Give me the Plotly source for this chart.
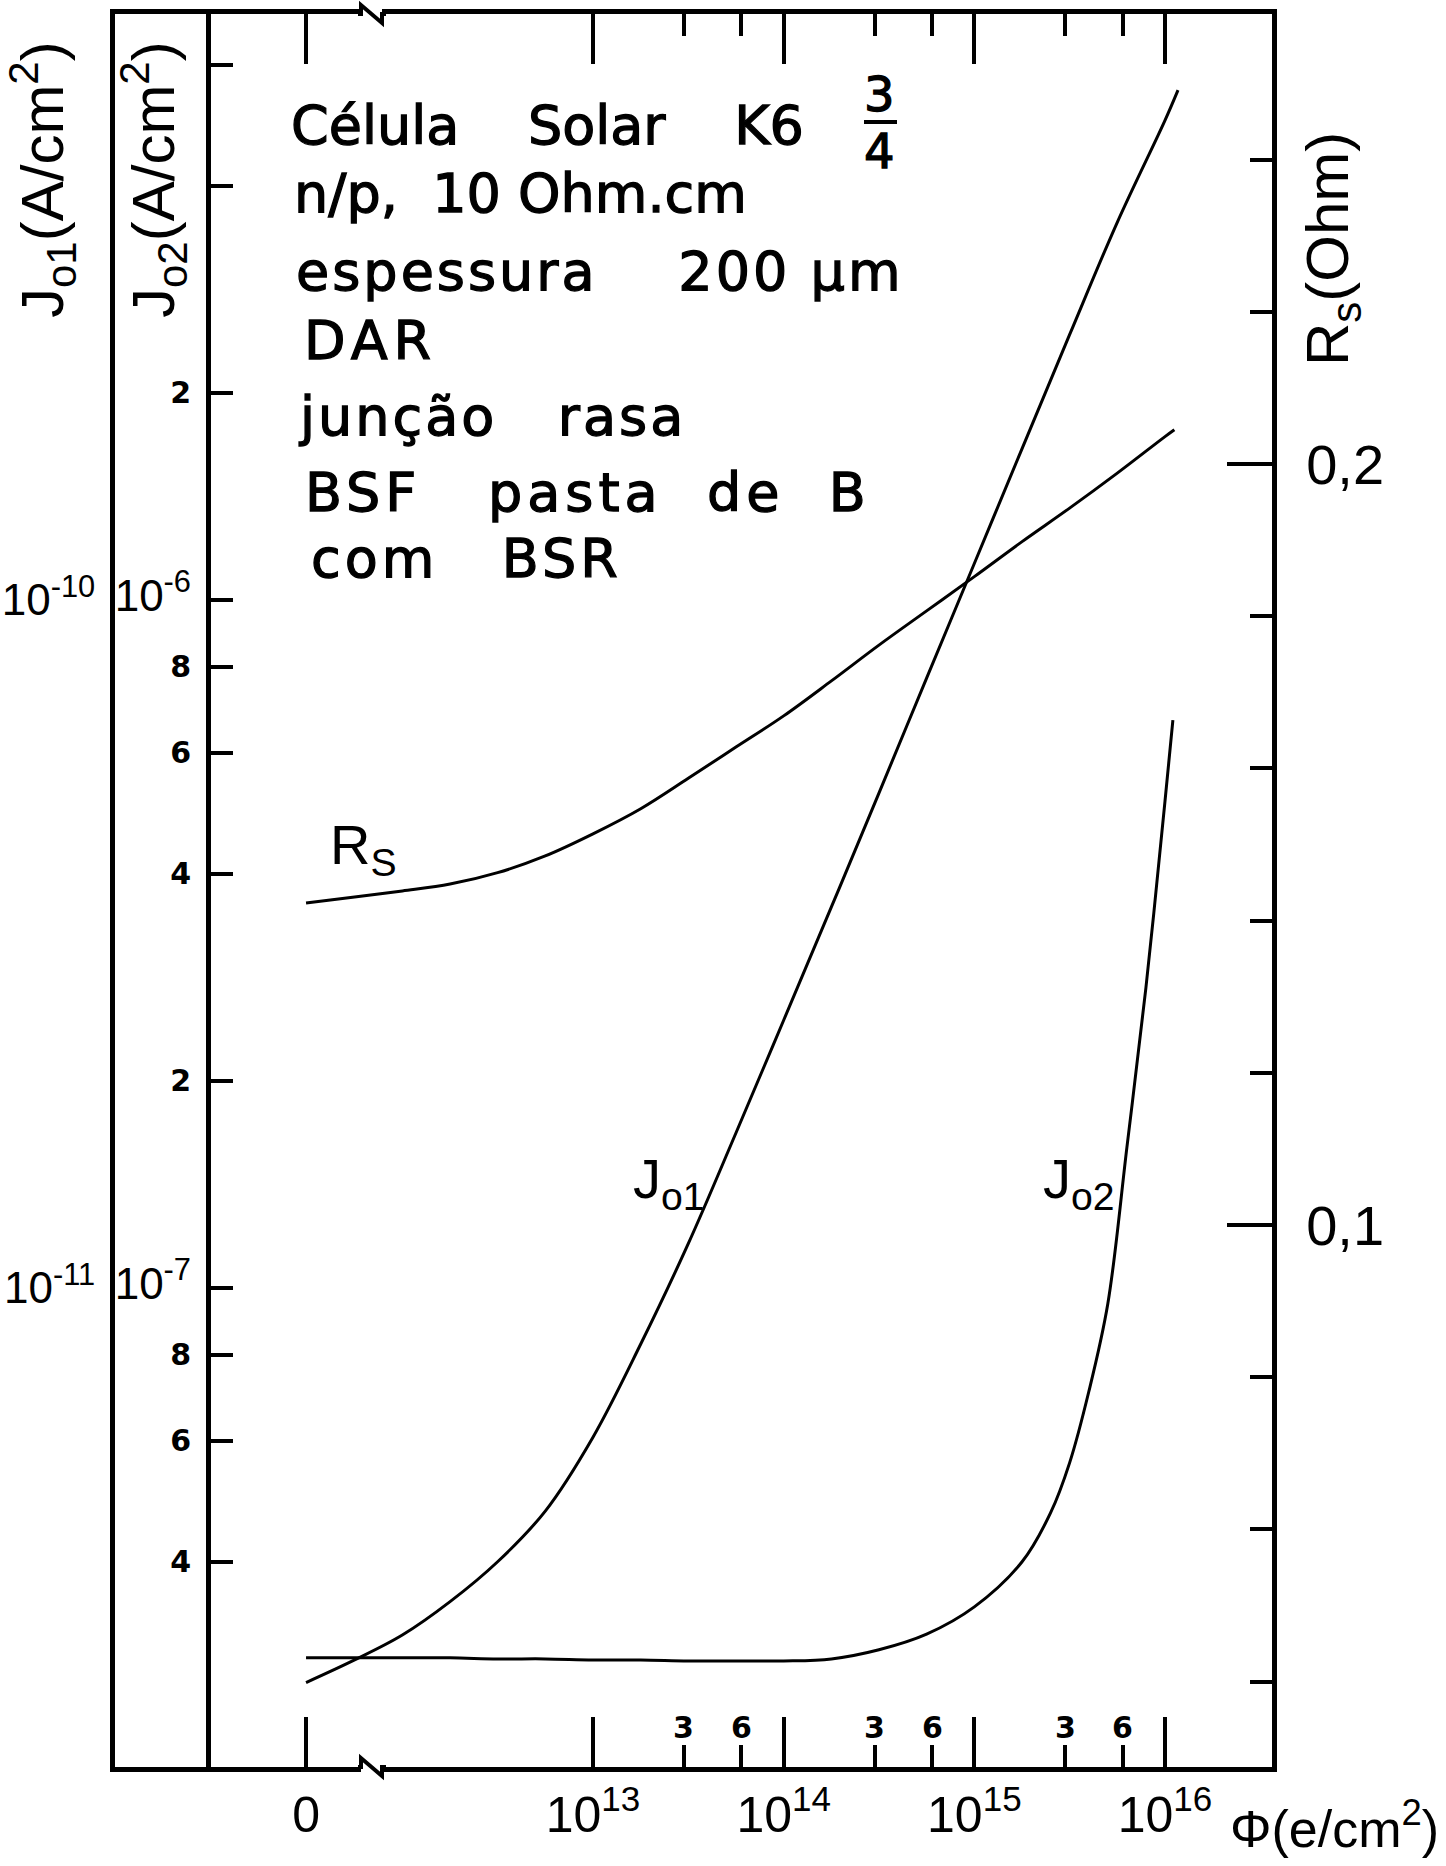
import plotly.graph_objects as go
import math

W, H = 1446, 1866

# ---------------- data ----------------
# fluence 0 sits on the broken part of the axis; this is where it is drawn
PHI_ZERO_POS = 10 ** 11.495

RS_PHI = [0, 5.62e11, 1e12, 1.78e12, 3.16e12, 5.62e12, 1e13, 1.78e13, 3.16e13,
          5.62e13, 1e14, 1.78e14, 3.16e14, 5.62e14, 1e15, 1.78e15, 3.16e15,
          5.62e15, 1e16, 1.12e16]
RS_OHM = [0.1423, 0.1431, 0.1439, 0.1448, 0.1463, 0.1485, 0.1514, 0.1547, 0.1587,
          0.1628, 0.1669, 0.1715, 0.1762, 0.1807, 0.1852, 0.1898, 0.1942,
          0.1988, 0.2036, 0.2045]

J01_PHI = [0, 5.62e11, 1e12, 1.78e12, 3.16e12, 5.62e12, 1e13, 1.78e13, 3.16e13,
           5.62e13, 1e14, 1.78e14, 3.16e14, 5.62e14, 1e15, 1.78e15, 3.16e15,
           5.62e15, 1e16, 1.17e16]
J01_VAL = [2.67e-12, 2.88e-12, 3.13e-12, 3.50e-12, 4.00e-12, 4.74e-12, 6.07e-12,
           8.29e-12, 1.16e-11, 1.68e-11, 2.45e-11, 3.58e-11, 5.24e-11, 7.70e-11,
           1.13e-10, 1.66e-10, 2.43e-10, 3.54e-10, 4.98e-10, 5.51e-10]

J02_PHI = [0, 5.62e11, 1e12, 1.78e12, 3.16e12, 5.62e12, 1e13, 1.78e13, 3.16e13,
           5.62e13, 1e14, 1.78e14, 3.16e14, 5.62e14, 1e15, 1.78e15, 2.51e15,
           3.16e15, 3.98e15, 5.01e15, 6.31e15, 7.94e15, 1e16, 1.1e16]
J02_VAL = [2.90e-8, 2.90e-8, 2.90e-8, 2.90e-8, 2.89e-8, 2.89e-8, 2.88e-8, 2.88e-8,
           2.87e-8, 2.87e-8, 2.87e-8, 2.89e-8, 2.98e-8, 3.14e-8, 3.44e-8, 4.00e-8,
           4.71e-8, 5.57e-8, 7.06e-8, 9.48e-8, 1.60e-7, 2.73e-7, 5.10e-7, 6.69e-7]

# ---------------- ticks ----------------
X_TICK_VALS = [0, 1e13, 1e14, 1e15, 1e16]
X_TICK_TEXT = ["0", "10<sup>13</sup>", "10<sup>14</sup>", "10<sup>15</sup>", "10<sup>16</sup>"]
X_MINOR_VALS = [3e13, 6e13, 3e14, 6e14, 3e15, 6e15]
X_MINOR_TEXT = ["3", "6", "3", "6", "3", "6"]

BIG = ('<span style="font-family:Liberation Sans;font-size:44px;'
       'font-weight:normal">{}</span>')
J02_TICK_VALS = [4e-8, 6e-8, 8e-8, 1e-7, 2e-7, 4e-7, 6e-7, 8e-7, 1e-6, 2e-6, 4e-6, 6e-6]
J02_TICK_TEXT = ["4", "6", "8", BIG.format("10<sup>-7</sup>"), "2", "4", "6", "8",
                 BIG.format("10<sup>-6</sup>"), "2", "", ""]
J02_DECADES = [1e-7, 1e-6]
J01_TICK_VALS = [1e-11, 1e-10]
J01_TICK_TEXT = ["10<sup>-11</sup>", "10<sup>-10</sup>"]
RS_MAJOR = [0.1, 0.2]
RS_MAJOR_TEXT = ["0,1", "0,2"]
RS_MINOR = [0.04, 0.06, 0.08, 0.12, 0.14, 0.16, 0.18, 0.22, 0.24]

TEXT_LINES = [
    ("Célula\u00a0\u00a0\u00a0\u00a0Solar\u00a0\u00a0\u00a0\u00a0K6", 0),
    ("n/p,\u00a0\u00a010 Ohm.cm", 0),
    ("espessura\u00a0\u00a0\u00a0\u00a0200 µm", 3),
    ("DAR", 6),
    ("junção\u00a0\u00a0\u00a0rasa", 3),
    ("BSF\u00a0\u00a0\u00a0pasta\u00a0\u00a0de\u00a0\u00a0B", 5),
    ("com\u00a0\u00a0\u00a0BSR", 4),
]

# ---------------- layout geometry (pixels) ----------------
PX_OUT, PX_J02, PX_RIGHT = 115, 208, 1272
PY_TOP, PY_BOT = 14, 1767
X_RANGE = [10.49305, 16.5612]
J02_RANGE = [-7.69622, -5.14826]
J01_RANGE = [J02_RANGE[0] - 4, J02_RANGE[1] - 4]
RS_RANGE = [0.02878, 0.25913]

THIN = "Liberation Sans"
TXT = "DejaVu Sans"


def xp(px):
    return px / W


def yp(py):
    return 1 - py / H


def xpos(vals):
    return [PHI_ZERO_POS if v == 0 else v for v in vals]


fig = go.Figure()
line = dict(color="black", width=3, shape="spline", smoothing=1.0)
fig.add_trace(go.Scatter(x=xpos(RS_PHI), y=RS_OHM, mode="lines", line=line, yaxis="y2"))
fig.add_trace(go.Scatter(x=xpos(J01_PHI), y=J01_VAL, mode="lines", line=line, yaxis="y3"))
fig.add_trace(go.Scatter(x=xpos(J02_PHI), y=J02_VAL, mode="lines", line=line, yaxis="y"))

ydom = [yp(PY_BOT), yp(PY_TOP)]
fig.update_layout(
    width=W, height=H, margin=dict(l=0, r=0, t=0, b=0, pad=0, autoexpand=False),
    paper_bgcolor="white", plot_bgcolor="white", showlegend=False,
    xaxis=dict(domain=[xp(PX_OUT), xp(PX_RIGHT)], type="log", range=X_RANGE,
               showline=True, linewidth=5, linecolor="black", mirror="ticks",
               ticks="inside", ticklen=50, tickwidth=4, tickcolor="black",
               tickvals=xpos(X_TICK_VALS), ticktext=X_TICK_TEXT,
               tickfont=dict(family=THIN, size=50, color="black"),
               showgrid=False, zeroline=False, anchor="y", automargin=False,
               minor=dict(tickvals=X_MINOR_VALS, ticks="inside", ticklen=22,
                          tickwidth=4, tickcolor="black", showgrid=False)),
    yaxis=dict(domain=ydom, type="log", range=J02_RANGE, anchor="free",
               position=xp(PX_J02), side="left", showline=True, linewidth=5,
               linecolor="black", ticks="inside", ticklen=22, tickwidth=4,
               tickcolor="black", tickvals=J02_TICK_VALS, ticktext=J02_TICK_TEXT,
               tickfont=dict(family=TXT, size=30, color="black", weight="bold"),
               ticklabelstandoff=9, showgrid=False, zeroline=False, automargin=False),
    yaxis4=dict(overlaying="y", type="log", range=J02_RANGE, anchor="free",
                position=xp(PX_J02), side="left", showline=False, ticks="inside",
                ticklen=47, tickwidth=4, tickcolor="black", tickvals=J02_DECADES,
                showticklabels=False, showgrid=False, zeroline=False, automargin=False),
    yaxis3=dict(overlaying="y", type="log", range=J01_RANGE, anchor="x",
                side="left", showline=True, linewidth=5, linecolor="black",
                ticks="", tickvals=J01_TICK_VALS, ticktext=J01_TICK_TEXT,
                tickfont=dict(family=THIN, size=44, color="black"),
                ticklabelstandoff=6, showgrid=False, zeroline=False, automargin=False),
    yaxis2=dict(overlaying="y", range=RS_RANGE, anchor="x", side="right",
                showline=True, linewidth=5, linecolor="black", ticks="inside",
                ticklen=45, tickwidth=4, tickcolor="black", tickvals=RS_MAJOR,
                ticktext=RS_MAJOR_TEXT,
                tickfont=dict(family=THIN, size=56, color="black"),
                ticklabelstandoff=18, showgrid=False, zeroline=False, automargin=False,
                minor=dict(tickvals=RS_MINOR, ticks="inside", ticklen=22,
                           tickwidth=4, tickcolor="black", showgrid=False)),
)

ann = []
# minor x tick labels (3, 6) drawn above their ticks
for v, t in zip(X_MINOR_VALS, X_MINOR_TEXT):
    ann.append(dict(x=math.log10(v), xref="x", y=yp(1727), yref="paper", text=t,
                    showarrow=False, font=dict(family=TXT, size=30, color="black", weight="bold"),
                    xanchor="center", yanchor="middle"))
# axis titles
titles = [
    dict(x=xp(42), y=yp(180), text="J<sub>o1</sub>(A/cm<sup>2</sup>)", textangle=-90, size=60),
    dict(x=xp(153), y=yp(180), text="J<sub>o2</sub>(A/cm<sup>2</sup>)", textangle=-90, size=60),
    dict(x=xp(1332), y=yp(249), text="R<sub>s</sub>(Ohm)", textangle=-90, size=60),
    dict(x=xp(1334), y=yp(1825), text="Φ(e/cm<sup>2</sup>)", textangle=0, size=52),
]
for t in titles:
    s = t.pop("size")
    t.update(xref="paper", yref="paper", showarrow=False, xanchor="center",
             yanchor="middle", font=dict(family=THIN, size=s, color="black"))
    ann.append(t)
# curve labels
for txt, px, py in [("R<sub>S</sub>", 328, 848), ("J<sub>o1</sub>", 631, 1182),
                    ("J<sub>o2</sub>", 1041, 1182)]:
    ann.append(dict(x=xp(px), y=yp(py), xref="paper", yref="paper", text=txt,
                    showarrow=False, xanchor="left", yanchor="middle",
                    font=dict(family=THIN, size=56, color="black")))
# text block
TEXT_X = [289, 292, 294, 302, 297, 303, 309]
TEXT_BASE = [145, 212, 290, 359, 435, 511, 578]
for (t, ls), x0, b in zip(TEXT_LINES, TEXT_X, TEXT_BASE):
    ann.append(dict(x=xp(x0), y=yp(b - 19), xref="paper", yref="paper",
                    text=(f'<span style="letter-spacing:{ls}px;stroke:black;'
                          f'stroke-width:1.3px">{t}</span>'),
                    showarrow=False, xanchor="left", yanchor="middle",
                    font=dict(family=TXT, size=54, color="black")))
# fraction 3/4
for t, py in [("3", 94), ("4", 151)]:
    ann.append(dict(x=xp(880), y=yp(py), xref="paper", yref="paper",
                    text=f'<span style="stroke:black;stroke-width:1.3px">{t}</span>',
                    showarrow=False, xanchor="center", yanchor="middle",
                    font=dict(family=TXT, size=48, color="black")))
fig.update_layout(annotations=ann)

shapes = [dict(type="line", xref="paper", yref="paper", x0=xp(864), x1=xp(897),
               y0=yp(122), y1=yp(122), line=dict(color="black", width=4))]
# axis break marks on bottom and top lines
for yb in (PY_BOT, PY_TOP):
    shapes.append(dict(type="rect", xref="paper", yref="paper", x0=xp(361), x1=xp(382),
                       y0=yp(yb - 5), y1=yp(yb + 5), fillcolor="white",
                       line=dict(width=0), layer="above"))
    path = (f"M {xp(358)},{yp(yb)} L {xp(361)},{yp(yb)} L {xp(361)},{yp(yb - 9)} "
            f"L {xp(382)},{yp(yb + 9)} L {xp(382)},{yp(yb)} L {xp(386)},{yp(yb)}")
    shapes.append(dict(type="path", xref="paper", yref="paper", path=path,
                       line=dict(color="black", width=4), layer="above"))
fig.update_layout(shapes=shapes)

fig.write_html("out.html", config={"displayModeBar": False})
